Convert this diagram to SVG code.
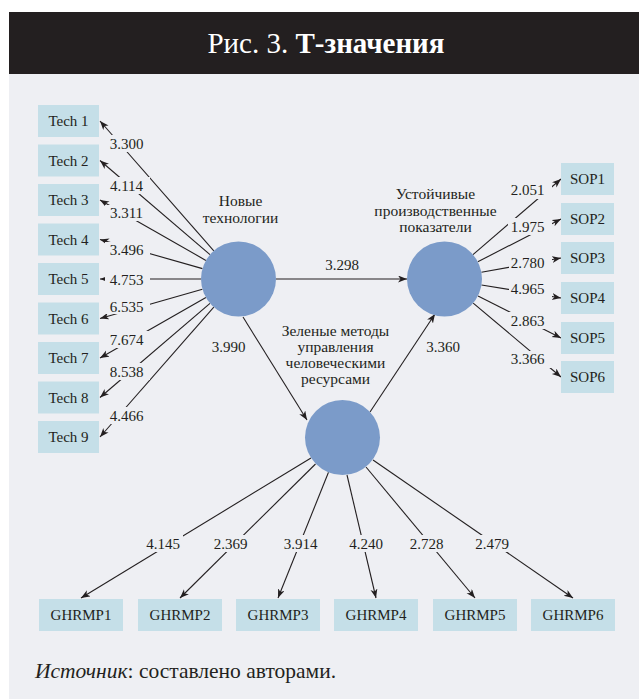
<svg xmlns="http://www.w3.org/2000/svg" width="639" height="699" viewBox="0 0 639 699" font-family="'Liberation Serif', 'DejaVu Serif', serif">
<defs>
<style>
text{font-family:'Liberation Serif','DejaVu Serif',serif;fill:#231f20}
.box{fill:#c5dfe8}
.lat{fill:#7b9bc9}
.ln{stroke:#231f20;stroke-width:1.1;fill:none;marker-end:url(#ah)}
.lbl{font-size:15px;text-anchor:middle}
.mask{fill:#eeeff3}
.cap{font-size:15px;text-anchor:middle}
.cc{font-size:15.5px;text-anchor:middle}
</style>
<marker id="ah" markerUnits="userSpaceOnUse" markerWidth="10" markerHeight="8" refX="9" refY="3.5" orient="auto">
<path d="M0,0 L9,3.5 L0,7 L2.5,3.5 z" fill="#231f20"/>
</marker>
</defs>
<rect x="9" y="74" width="630" height="625" fill="#eeeff3"/>
<rect x="9" y="12" width="630" height="62" fill="#231f20"/>
<text x="326" y="53" font-size="29" text-anchor="middle" style="fill:#ffffff">Рис. 3. <tspan font-weight="bold">Т-значения</tspan></text>

<g id="connectors">
<line class="ln" x1="213.8" y1="250.8" x2="100" y2="121"/>
<line class="ln" x1="210.0" y1="254.6" x2="100" y2="160.5"/>
<line class="ln" x1="205.9" y1="260.4" x2="100" y2="200"/>
<line class="ln" x1="202.5" y1="268.6" x2="100" y2="239.5"/>
<line class="ln" x1="201" y1="279" x2="100" y2="279"/>
<line class="ln" x1="202.4" y1="289.2" x2="100" y2="318.5"/>
<line class="ln" x1="205.9" y1="297.6" x2="100" y2="358"/>
<line class="ln" x1="210.0" y1="303.3" x2="100" y2="397.5"/>
<line class="ln" x1="213.8" y1="307.2" x2="100" y2="437"/>
<line class="ln" x1="473.0" y1="254.6" x2="561" y2="179"/>
<line class="ln" x1="477.8" y1="261.8" x2="561" y2="219"/>
<line class="ln" x1="481.4" y1="272.3" x2="561" y2="258"/>
<line class="ln" x1="481.5" y1="285.0" x2="561" y2="298"/>
<line class="ln" x1="478.0" y1="296.0" x2="561" y2="338"/>
<line class="ln" x1="473.2" y1="303.1" x2="561" y2="377"/>
<line class="ln" x1="311" y1="458" x2="81" y2="598"/>
<line class="ln" x1="315.5" y1="464" x2="180" y2="598"/>
<line class="ln" x1="328.5" y1="472.3" x2="278" y2="598"/>
<line class="ln" x1="347" y1="475" x2="376" y2="598"/>
<line class="ln" x1="366" y1="467" x2="475" y2="598"/>
<line class="ln" x1="373" y1="460" x2="573" y2="598"/>
<line class="ln" x1="276" y1="279" x2="407" y2="279"/>
<line class="ln" x1="243" y1="317" x2="307" y2="420"/>
<line class="ln" x1="370" y1="412" x2="435" y2="314"/>

<rect class="mask" x="105" y="135" width="45" height="17"/>
<rect class="mask" x="105" y="177" width="45" height="17"/>
<rect class="mask" x="105" y="205" width="45" height="16"/>
<rect class="mask" x="105" y="242" width="45" height="16"/>
<rect class="mask" x="105" y="271" width="45" height="16"/>
<rect class="mask" x="105" y="298" width="45" height="16"/>
<rect class="mask" x="105" y="331" width="45" height="17"/>
<rect class="mask" x="105" y="363" width="45" height="17"/>
<rect class="mask" x="105" y="407" width="45" height="17"/>
<text class="lbl" x="126.5" y="149">3.300</text>
<text class="lbl" x="126.5" y="190.5">4.114</text>
<text class="lbl" x="126.5" y="218">3.311</text>
<text class="lbl" x="126.5" y="255">3.496</text>
<text class="lbl" x="126.5" y="285">4.753</text>
<text class="lbl" x="126.5" y="311.5">6.535</text>
<text class="lbl" x="126.5" y="345">7.674</text>
<text class="lbl" x="126.5" y="376.5">8.538</text>
<text class="lbl" x="126.5" y="420.5">4.466</text>

<rect class="mask" x="508" y="182" width="44" height="17"/>
<rect class="mask" x="508" y="218" width="44" height="17"/>
<rect class="mask" x="509" y="254" width="43" height="17"/>
<rect class="mask" x="509" y="280" width="43" height="17"/>
<rect class="mask" x="508" y="312" width="44" height="17"/>
<rect class="mask" x="508" y="351" width="44" height="17"/>
<text class="lbl" x="527.5" y="195">2.051</text>
<text class="lbl" x="527.5" y="231.5">1.975</text>
<text class="lbl" x="527.5" y="268">2.780</text>
<text class="lbl" x="527.5" y="294">4.965</text>
<text class="lbl" x="527.5" y="325.5">2.863</text>
<text class="lbl" x="527.5" y="364">3.366</text>

<rect class="mask" x="143" y="535" width="40" height="17"/>
<rect class="mask" x="210" y="535" width="41" height="17"/>
<rect class="mask" x="280" y="535" width="41" height="17"/>
<rect class="mask" x="346" y="535" width="40" height="17"/>
<rect class="mask" x="406" y="535" width="41" height="17"/>
<rect class="mask" x="472" y="535" width="40" height="17"/>
<text class="lbl" x="163" y="549">4.145</text>
<text class="lbl" x="230.5" y="549">2.369</text>
<text class="lbl" x="300.5" y="549">3.914</text>
<text class="lbl" x="366" y="549">4.240</text>
<text class="lbl" x="426.5" y="549">2.728</text>
<text class="lbl" x="492" y="549">2.479</text>

<text class="lbl" x="342" y="270">3.298</text>
<text class="lbl" x="228.5" y="352">3.990</text>
<text class="lbl" x="443" y="352">3.360</text>
</g>

<g id="tech">
<rect class="box" x="38" y="105" width="61" height="32"/><text class="cap" x="68.5" y="126">Tech 1</text>
<rect class="box" x="38" y="144.5" width="61" height="32"/><text class="cap" x="68.5" y="165.5">Tech 2</text>
<rect class="box" x="38" y="184" width="61" height="32"/><text class="cap" x="68.5" y="205">Tech 3</text>
<rect class="box" x="38" y="223.5" width="61" height="32"/><text class="cap" x="68.5" y="244.5">Tech 4</text>
<rect class="box" x="38" y="263" width="61" height="32"/><text class="cap" x="68.5" y="284">Tech 5</text>
<rect class="box" x="38" y="302.5" width="61" height="32"/><text class="cap" x="68.5" y="323.5">Tech 6</text>
<rect class="box" x="38" y="342" width="61" height="32"/><text class="cap" x="68.5" y="363">Tech 7</text>
<rect class="box" x="38" y="381.5" width="61" height="32"/><text class="cap" x="68.5" y="402.5">Tech 8</text>
<rect class="box" x="38" y="421" width="61" height="32"/><text class="cap" x="68.5" y="442">Tech 9</text>
</g>

<g id="sop">
<rect class="box" x="561" y="163" width="53" height="32"/><text class="cap" x="587.5" y="184">SOP1</text>
<rect class="box" x="561" y="203" width="53" height="32"/><text class="cap" x="587.5" y="224">SOP2</text>
<rect class="box" x="561" y="242" width="53" height="32"/><text class="cap" x="587.5" y="263">SOP3</text>
<rect class="box" x="561" y="282" width="53" height="32"/><text class="cap" x="587.5" y="303">SOP4</text>
<rect class="box" x="561" y="322" width="53" height="32"/><text class="cap" x="587.5" y="343">SOP5</text>
<rect class="box" x="561" y="361" width="53" height="32"/><text class="cap" x="587.5" y="382">SOP6</text>
</g>

<g id="ghrmp">
<rect class="box" x="39" y="599" width="84" height="32"/><text class="cap" x="81" y="620">GHRMP1</text>
<rect class="box" x="138" y="599" width="84" height="32"/><text class="cap" x="180" y="620">GHRMP2</text>
<rect class="box" x="236" y="599" width="84" height="32"/><text class="cap" x="278" y="620">GHRMP3</text>
<rect class="box" x="334" y="599" width="84" height="32"/><text class="cap" x="376" y="620">GHRMP4</text>
<rect class="box" x="433" y="599" width="84" height="32"/><text class="cap" x="475" y="620">GHRMP5</text>
<rect class="box" x="531" y="599" width="84" height="32"/><text class="cap" x="573" y="620">GHRMP6</text>
</g>

<g id="new-tech">
<circle class="lat" cx="238.5" cy="279" r="37.5"/>
<text class="cc" x="240.5" y="206">Новые</text>
<text class="cc" x="240.5" y="222.5">технологии</text>
</g>

<g id="sustainable-performance">
<circle class="lat" cx="444.5" cy="279" r="37.5"/>
<text class="cc" x="435.5" y="199">Устойчивые</text>
<text class="cc" x="435.5" y="215.5">производственные</text>
<text class="cc" x="435.5" y="232">показатели</text>
</g>

<g id="green-hrm">
<circle class="lat" cx="342.5" cy="437.5" r="37.5"/>
<text class="cc" x="335.5" y="336">Зеленые методы</text>
<text class="cc" x="335.5" y="352">управления</text>
<text class="cc" x="335.5" y="368">человеческими</text>
<text class="cc" x="335.5" y="384">ресурсами</text>
</g>

<text x="35" y="678" font-size="21.5"><tspan font-style="italic">Источник</tspan>: составлено авторами.</text>
</svg>
